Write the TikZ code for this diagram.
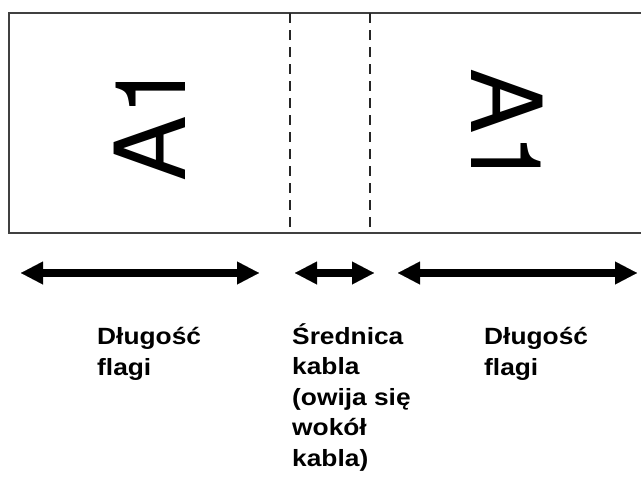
\documentclass[tikz,border=0pt]{standalone}
\usepackage{fontspec}
\setmainfont{Liberation Sans}
\newfontfamily\lblfont[FakeStretch=1.12]{Liberation Sans}
\newfontfamily\bigfont{TeX Gyre Heros}
\usetikzlibrary{arrows.meta}
\begin{document}
\begin{tikzpicture}[x=1pt,y=-1pt,
  border/.style={draw=black!75,line width=1.6pt},
  cutline/.style={draw=black!85,line width=1.3pt,dash pattern=on 10pt off 7pt},
  bigtext/.style={inner sep=0pt,font=\bigfont\fontsize{98}{100}\selectfont},
  dimarrow/.style={line width=7.5pt,{Triangle[length=22pt,width=23pt,line width=0.01pt]}-{Triangle[length=22pt,width=23pt,line width=0.01pt]}},
  lbl/.style={anchor=base west,inner sep=0pt,align=left,font=\lblfont\bfseries\fontsize{23.5}{30.5}\selectfont}]
\useasboundingbox (0,0) rectangle (641,477);
\fill[white] (0,0) rectangle (641,477);
% tape outline (right end open)
\coordinate (tr) at (642,13);
\coordinate (tl) at (9,13);
\coordinate (bl) at (9,233);
\coordinate (br) at (642,233);
\draw[border] (tr) -- (tl) -- (bl) -- (br);
% cut lines
\coordinate (c1t) at (290,13); \coordinate (c1b) at (290,233);
\coordinate (c2t) at (370,13); \coordinate (c2b) at (370,233);
\draw[cutline] (c1t) -- (c1b);
\draw[cutline] (c2t) -- (c2b);
% rotated texts
\node[bigtext,rotate=90,anchor=west] (tl1) at (150,182) {A1};
\node[bigtext,rotate=-90,anchor=west] (tr1) at (507,68) {A1};
% dimension arrows
\coordinate (a1l) at (21,273); \coordinate (a1r) at (259,273);
\coordinate (a2l) at (295,273); \coordinate (a2r) at (374,273);
\coordinate (a3l) at (398,273); \coordinate (a3r) at (637,273);
\draw[dimarrow] (a1l) -- (a1r);
\draw[dimarrow] (a2l) -- (a2r);
\draw[dimarrow] (a3l) -- (a3r);
% labels (base anchor = baseline of last line)
\node[lbl] (l1) at (97,375) {Długość\\flagi};
\node[lbl] (l2) at (292,466) {Średnica\\kabla\\(owija się\\wokół\\kabla)};
\node[lbl] (l3) at (484,375) {Długość\\flagi};
\end{tikzpicture}
\end{document}
